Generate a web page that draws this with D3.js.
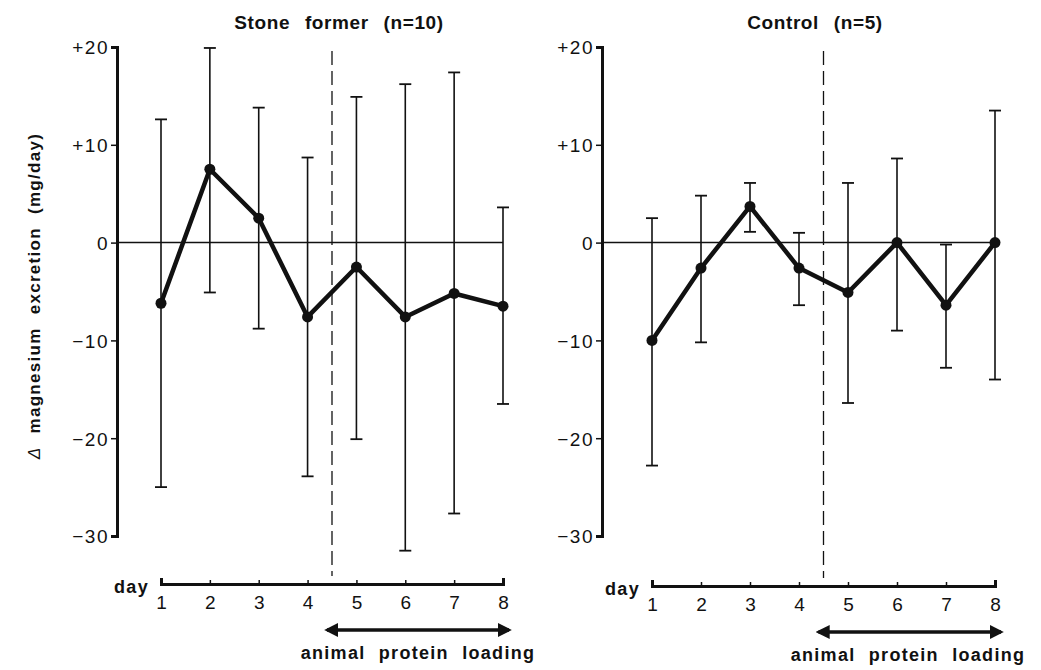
<!DOCTYPE html>
<html>
<head>
<meta charset="utf-8">
<script src="https://cdn.jsdelivr.net/npm/d3@7"></script>
<style>
  body { margin: 0; background: #fff; }
  svg { display: block; }
  text { font-family: "Liberation Sans", Arial, sans-serif; fill: #111; }
  .tick text { font-size: 19px; letter-spacing: 1.5px; }
  .title { font-size: 19px; font-weight: bold; word-spacing: 9px; letter-spacing: 0.6px; }
  .lbl { font-size: 18px; font-weight: bold; letter-spacing: 1.3px; word-spacing: 7px; }
</style>
</head>
<body>
<svg id="chart" width="1041" height="670"></svg>
<script>
// days on the x axis
const days = [1, 2, 3, 4, 5, 6, 7, 8];
const yTicks = [20, 10, 0, -10, -20, -30];

// Stone former (n=10): mean change and error bar ends
const stoneMean  = [-6.2, 7.5, 2.5, -7.6, -2.5, -7.6, -5.2, -6.5];
const stoneUpper = [12.6, 19.9, 13.8, 8.7, 14.9, 16.2, 17.4, 3.6];
const stoneLower = [-25.0, -5.1, -8.8, -23.9, -20.1, -31.5, -27.7, -16.5];

// Control (n=5)
const ctrlMean  = [-10.0, -2.6, 3.7, -2.6, -5.1, 0, -6.4, 0];
const ctrlUpper = [2.5, 4.8, 6.1, 1.0, 6.1, 8.6, -0.2, 13.5];
const ctrlLower = [-22.8, -10.2, 1.1, -6.4, -16.4, -9.0, -12.8, -14.0];

const svg = d3.select('#chart');

// arrowhead marker
const defs = svg.append('defs');
defs.append('marker')
    .attr('id', 'head')
    .attr('viewBox', '0 0 10 10')
    .attr('refX', 8).attr('refY', 5)
    .attr('markerWidth', 4).attr('markerHeight', 4)
    .attr('markerUnits', 'strokeWidth')
    .attr('orient', 'auto-start-reverse')
  .append('path')
    .attr('d', 'M0,0 L10,5 L0,10 Z')
    .attr('fill', '#111');

const fmt = d => d > 0 ? '+' + d : d < 0 ? '\u2212' + Math.abs(d) : '0';

function drawPanel(cfg) {
  const x = d3.scaleLinear().domain([1, 8]).range(cfg.xRange);
  const y = d3.scaleLinear().domain([-30, 20]).range([536, 47]);
  const g = svg.append('g');

  // y axis
  const yAxisG = g.append('g')
      .attr('transform', `translate(${cfg.yAxisX},0)`)
      .call(d3.axisLeft(y).tickValues(yTicks).tickFormat(fmt).tickSize(6).tickPadding(2));
  yAxisG.select('.domain').attr('stroke-width', 3).attr('stroke', '#111');
  yAxisG.selectAll('.tick line').attr('stroke-width', 1.5).attr('stroke', '#111');
  yAxisG.selectAll('.tick text').attr('dy', '0.36em');

  // x axis (ticks point up)
  const axisY = cfg.axisY;
  const xAxisG = g.append('g')
      .attr('transform', `translate(0,${axisY})`)
      .call(d3.axisBottom(x).tickValues(days).tickFormat(d3.format('d'))
        .tickSizeInner(-4).tickSizeOuter(-6).tickPadding(12));
  xAxisG.select('.domain').attr('stroke-width', 3).attr('stroke', '#111');
  xAxisG.selectAll('.tick line').attr('stroke-width', 1.5).attr('stroke', '#111');
  xAxisG.selectAll('.tick text').style('font-size', '19px').style('letter-spacing', '0px');

  g.append('text')
      .attr('class', 'lbl')
      .attr('x', cfg.xRange[0] - 12)
      .attr('y', axisY + 9)
      .attr('text-anchor', 'end')
      .text('day');

  // zero line
  g.append('line')
      .attr('x1', cfg.yAxisX).attr('x2', x(8))
      .attr('y1', y(0)).attr('y2', y(0))
      .attr('stroke', '#111').attr('stroke-width', 1.5);

  // dashed separator at day 4.5
  g.append('line')
      .attr('x1', x(4.5)).attr('x2', x(4.5))
      .attr('y1', y(19.6)).attr('y2', axisY - 8)
      .attr('stroke', '#111').attr('stroke-width', 1.3)
      .attr('stroke-dasharray', '14,6');

  // error bars
  const rows = days.map((d, i) => ({day: d, m: cfg.mean[i], hi: cfg.upper[i], lo: cfg.lower[i]}));
  const bars = g.append('g').selectAll('g').data(rows).join('g');
  bars.append('line')
      .attr('x1', d => x(d.day)).attr('x2', d => x(d.day))
      .attr('y1', d => y(d.hi)).attr('y2', d => y(d.lo))
      .attr('stroke', '#111').attr('stroke-width', 1.6);
  bars.selectAll('.cap').data(d => [[d.day, d.hi], [d.day, d.lo]]).join('line')
      .attr('class', 'cap')
      .attr('x1', d => x(d[0]) - 6).attr('x2', d => x(d[0]) + 6)
      .attr('y1', d => y(d[1])).attr('y2', d => y(d[1]))
      .attr('stroke', '#111').attr('stroke-width', 1.8);

  // mean line and points
  g.append('path')
      .datum(rows)
      .attr('fill', 'none').attr('stroke', '#111').attr('stroke-width', 4.5)
      .attr('stroke-linejoin', 'round')
      .attr('d', d3.line().x(d => x(d.day)).y(d => y(d.m)));
  g.append('g').selectAll('circle').data(rows).join('circle')
      .attr('cx', d => x(d.day)).attr('cy', d => y(d.m))
      .attr('r', 5.5).attr('fill', '#111');

  // title
  g.append('text')
      .attr('class', 'title')
      .attr('x', cfg.titleX).attr('y', 29)
      .attr('text-anchor', 'middle')
      .text(cfg.title);

  // protein loading arrow
  g.append('line')
      .attr('x1', x(4.5) - 5).attr('x2', x(8) + 6)
      .attr('y1', axisY + 46).attr('y2', axisY + 46)
      .attr('stroke', '#111').attr('stroke-width', 3.5)
      .attr('marker-start', 'url(#head)').attr('marker-end', 'url(#head)');
  g.append('text')
      .attr('class', 'lbl')
      .attr('x', cfg.loadX).attr('y', axisY + 75)
      .attr('text-anchor', 'middle')
      .text('animal protein loading');
}

drawPanel({
  title: 'Stone former (n=10)', titleX: 339,
  xRange: [161, 503], yAxisX: 117, axisY: 584, loadX: 418,
  mean: stoneMean, upper: stoneUpper, lower: stoneLower
});
drawPanel({
  title: 'Control (n=5)', titleX: 815,
  xRange: [652, 995], yAxisX: 602, axisY: 586, loadX: 908,
  mean: ctrlMean, upper: ctrlUpper, lower: ctrlLower
});

// y axis label
svg.append('text')
    .attr('transform', 'translate(40,296) rotate(-90)')
    .attr('class', 'lbl')
    .attr('text-anchor', 'middle')
    .style('font-size', '17px')
    .html('<tspan font-style="italic" font-weight="normal">\u0394</tspan> magnesium excretion (mg/day)');
</script>
</body>
</html>
